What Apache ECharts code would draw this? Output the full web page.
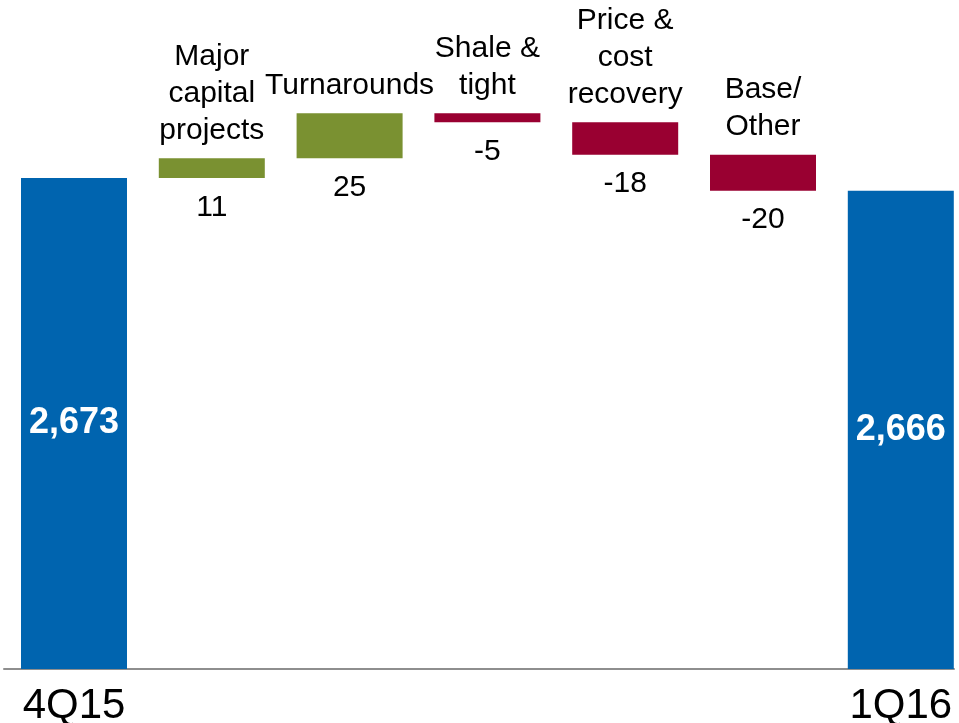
<!DOCTYPE html>
<html>
<head>
<meta charset="utf-8">
<script src="https://cdn.jsdelivr.net/npm/echarts@6/dist/echarts.min.js"></script>
<style>
  html, body { margin: 0; padding: 0; background: #ffffff; }
  #chart { width: 959px; height: 723px; }
</style>
</head>
<body>
<div id="chart"></div>
<script>
// Production bridge, 4Q15 to 1Q16 (MBOE/D)
const categories = ['4Q15', 'Major\ncapital\nprojects', 'Turnarounds', 'Shale &\ntight', 'Price &\ncost\nrecovery', 'Base/\nOther', '1Q16'];
const values = [2673, 11, 25, -5, -18, -20, 2666];
const axisTickLabels = ['4Q15', '1Q16'];

const FONT = "'Liberation Sans', Arial, Helvetica, sans-serif";
const BLUE = '#0064AF';
const GREEN = '#7A9131';
const RED = '#990031';

const last = values.length - 1;

// Running level before and after each step of the bridge
const offsetData = [];
const changeData = [];
const totalData = [];
let level = values[0];
values.forEach((v, i) => {
  if (i === 0 || i === last) {
    offsetData.push('-');
    changeData.push('-');
    totalData.push(v);
  } else {
    const next = level + v;
    offsetData.push(Math.min(level, next));
    changeData.push({ value: Math.abs(v), itemStyle: { color: v >= 0 ? GREEN : RED } });
    totalData.push('-');
    level = next;
  }
});

const chart = echarts.init(document.getElementById('chart'), null, { renderer: 'canvas' });

chart.setOption({
  animation: false,
  backgroundColor: '#ffffff',
  textStyle: { fontFamily: FONT },
  grid: [
    // bar area; slightly wider than the canvas so the bands line up
    { left: 5.1, width: 964.6, top: 3.6, bottom: 54, containLabel: false, outerBoundsMode: 'none' },
    // baseline rule
    { left: 4, right: 5, top: 3.6, bottom: 54, containLabel: false, outerBoundsMode: 'none' }
  ],
  xAxis: [
    {
      type: 'category',
      gridIndex: 0,
      data: categories,
      axisLine: { show: false },
      axisTick: { show: false },
      axisLabel: {
        interval: 0,
        margin: 16,
        color: '#000000',
        fontFamily: FONT,
        fontSize: 42,
        lineHeight: 42,
        formatter: (v, i) => (i === 0 ? axisTickLabels[0] : i === last ? axisTickLabels[1] : '')
      },
      splitLine: { show: false }
    },
    {
      type: 'value',
      gridIndex: 1,
      axisLine: { show: true, lineStyle: { color: '#8E8E8E', width: 2 } },
      axisTick: { show: false },
      axisLabel: { show: false },
      splitLine: { show: false }
    }
  ],
  yAxis: [
    { type: 'value', gridIndex: 0, min: 2400, max: 2770, show: false, splitLine: { show: false } },
    { type: 'value', gridIndex: 1, show: false, splitLine: { show: false } }
  ],
  series: [
    {
      // invisible support under each step; its label carries the step value
      name: 'offset',
      type: 'bar',
      stack: 'bridge',
      barWidth: 106,
      data: offsetData,
      itemStyle: { color: 'rgba(0,0,0,0)' },
      emphasis: { disabled: true },
      label: {
        show: true,
        position: 'insideTop',
        distance: 11,
        color: '#000000',
        fontFamily: FONT,
        fontSize: 30,
        lineHeight: 37,
        formatter: (p) => String(values[p.dataIndex])
      },
      z: 1
    },
    {
      name: 'change',
      type: 'bar',
      stack: 'bridge',
      barWidth: 106,
      data: changeData,
      emphasis: { disabled: true },
      label: {
        show: true,
        position: 'top',
        distance: 9,
        align: 'center',
        color: '#000000',
        fontFamily: FONT,
        fontSize: 30,
        lineHeight: 37,
        formatter: (p) => categories[p.dataIndex]
      },
      z: 2
    },
    {
      name: 'total',
      type: 'bar',
      stack: 'bridge',
      barWidth: 106,
      data: totalData,
      itemStyle: { color: BLUE },
      emphasis: { disabled: true },
      label: {
        show: true,
        position: 'inside',
        color: '#ffffff',
        fontFamily: FONT,
        fontWeight: 'bold',
        fontSize: 36,
        formatter: (p) => p.value.toLocaleString('en-US')
      },
      z: 2
    }
  ]
});
</script>
</body>
</html>
